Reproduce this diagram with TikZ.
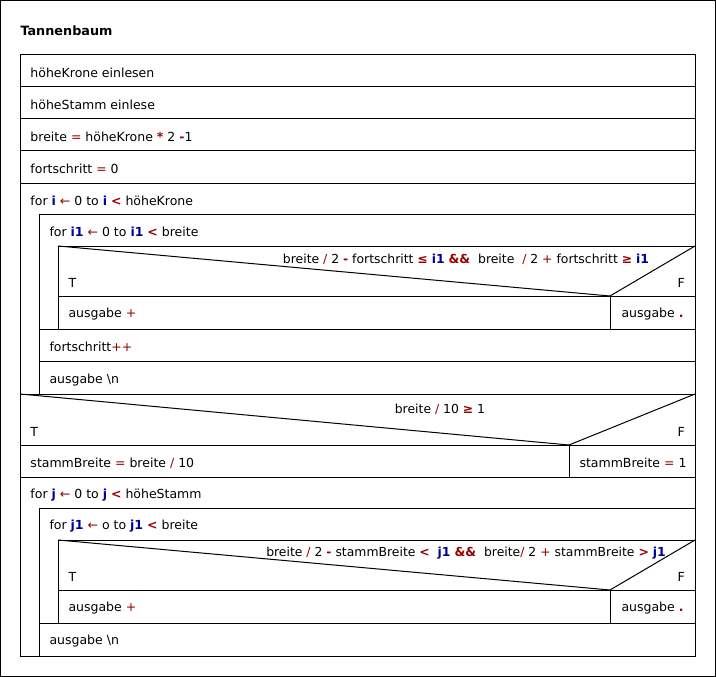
\documentclass[tikz,border=0pt]{standalone}
\usepackage{fontspec}
\setmainfont{DejaVu Sans}
\usepackage{tikz}

\definecolor{nsred}{RGB}{153,0,0}
\definecolor{nsblue}{RGB}{0,0,153}
\newcommand{\op}[1]{\textcolor{nsred}{\textbf{#1}}}
\newcommand{\opl}[1]{\textcolor{nsred}{#1}}
\newcommand{\va}[1]{\textcolor{nsblue}{\textbf{#1}}}

\tikzset{
    lbl/.style={anchor=west, inner sep=0pt, font=\fontsize{12.5}{14}\selectfont},
    cond/.style={anchor=center, inner sep=0pt, font=\fontsize{12.4}{14}\selectfont}
}

\begin{document}
\begin{tikzpicture}[x=1pt, y=-1pt, line width=1pt]
                \useasboundingbox (0, 0) rectangle (716, 677);
                \draw [] (0.5, 0.5) rectangle (715.5, 676.5);

                \node [lbl, font=\fontsize{12.8}{14}\selectfont\bfseries] (titel) at (20, 31) {Tannenbaum};

                \draw [] (20, 55) rectangle (695, 656);
                \draw [] (20, 87) to (695, 87);
                \draw [] (20, 119) to (695, 119);
                \draw [] (20, 151) to (695, 151);
                \draw [] (20, 183) to (695, 183);

                \draw [] (39, 214) to (695, 214);
                \draw [] (39, 214) to (39, 394);
                \draw [] (58, 246) to (695, 246);
                \draw [] (58, 246) to (58, 329);
                \draw [] (58, 246) to (610, 296);
                \draw [] (610, 296) to (695, 246);
                \draw [] (58, 296) to (695, 296);
                \draw [] (610, 296) to (610, 329);
                \draw [] (39, 329) to (695, 329);
                \draw [] (39, 361) to (695, 361);

                \draw [] (20, 394) to (695, 394);
                \draw [] (20, 394) to (569, 445);
                \draw [] (569, 445) to (695, 394);
                \draw [] (20, 445) to (695, 445);
                \draw [] (569, 445) to (569, 477);
                \draw [] (20, 477) to (695, 477);

                \draw [] (39, 508) to (695, 508);
                \draw [] (39, 508) to (39, 656);
                \draw [] (58, 540) to (695, 540);
                \draw [] (58, 540) to (58, 623);
                \draw [] (58, 540) to (610, 590);
                \draw [] (610, 590) to (695, 540);
                \draw [] (58, 590) to (695, 590);
                \draw [] (610, 590) to (610, 623);
                \draw [] (39, 623) to (695, 623);

                \node [lbl] (krone) at (30, 73) {höheKrone einlesen};
                \node [lbl] (stamm) at (30, 105) {höheStamm einlese};
                \node [lbl] (breite) at (30, 137) {breite \opl{=} höheKrone \op{*} 2 \op{-}1};
                \node [lbl] (fort) at (30, 169) {fortschritt \opl{=} 0};
                \node [lbl] (fori) at (30, 201) {for \va{i} \opl{←} 0 to \va{i} \op{<} höheKrone};
                \node [lbl] (forii) at (49, 232) {for \va{i1} \opl{←} 0 to \va{i1} \op{<} breite};
                \node [cond] (ifa) at (466, 259) {breite \opl{/} 2 \op{-} fortschritt \op{≤} \va{i1} \op{\&\&}\ \ breite\ \ \opl{/} 2 \opl{+} fortschritt \op{≥} \va{i1}};
                \node [lbl] (ta) at (68, 283) {T};
                \node [lbl] (fa) at (677, 283) {F};
                \node [lbl] (plusa) at (68, 314) {ausgabe \opl{+}};
                \node [lbl] (punkta) at (621, 314) {ausgabe \op{.}};
                \node [lbl] (fortpp) at (49, 347) {fortschritt\opl{++}};
                \node [lbl] (nla) at (49, 380) {ausgabe \textbackslash n};

                \node [cond] (ifb) at (440, 409) {breite \opl{/} 10 \op{≥} 1};
                \node [lbl] (tb) at (30, 432) {T};
                \node [lbl] (fb) at (677, 432) {F};
                \node [lbl] (sba) at (30, 463) {stammBreite \opl{=} breite \opl{/} 10};
                \node [lbl] (sbb) at (579, 463) {stammBreite \opl{=} 1};

                \node [lbl] (forj) at (30, 495) {for \va{j} \opl{←} 0 to \va{j} \op{<} höheStamm};
                \node [lbl] (forjj) at (49, 526) {for \va{j1} \opl{←} o to \va{j1} \op{<} breite};
                \node [cond] (ifc) at (466, 553) {breite \opl{/} 2 \op{-} stammBreite \op{<}\ \ \va{j1} \op{\&\&}\ \ breite\opl{/} 2 \opl{+} stammBreite \op{>} \va{j1}};
                \node [lbl] (tc) at (68, 577) {T};
                \node [lbl] (fc) at (677, 577) {F};
                \node [lbl] (plusc) at (68, 608) {ausgabe \opl{+}};
                \node [lbl] (punktc) at (621, 608) {ausgabe \op{.}};
                \node [lbl] (nlc) at (49, 641) {ausgabe \textbackslash n};
            \end{tikzpicture}
\end{document}
